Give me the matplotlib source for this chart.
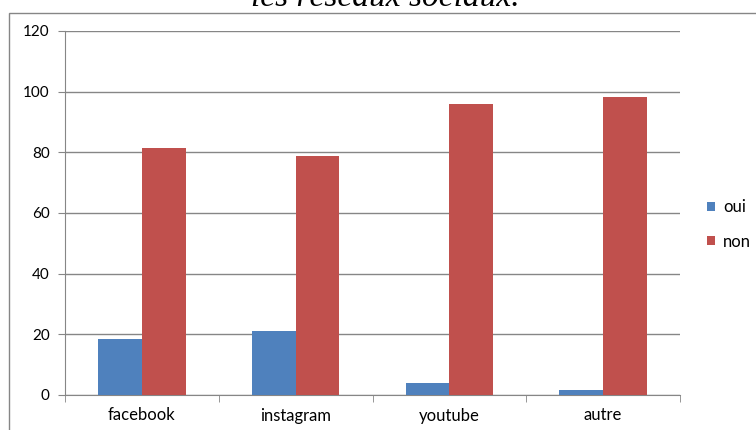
import numpy as np
import matplotlib.pyplot as plt
from matplotlib.patches import Rectangle

categories = ["facebook", "instagram", "youtube", "autre"]
oui = [18.5, 21.1, 4.0, 1.6]
non = [81.5, 78.9, 96.0, 98.4]
yticks = [0, 20, 40, 60, 80, 100, 120]

plt.rcParams["font.family"] = ["Lato", "DejaVu Sans"]

fig = plt.figure(figsize=(7.56, 4.30), dpi=100)
ax = fig.add_axes([65 / 756, 35 / 430, 615 / 756, 364 / 430])

# outer chart frame
fig.add_artist(Rectangle((9 / 756, -0.1), 1.0, (430 - 13) / 430 + 0.1,
                         transform=fig.transFigure, fill=False,
                         edgecolor="#868686", lw=1.0))

# title, cut off at the top like the original screenshot
fig.text(385 / 756, (430 - 6) / 430, "les réseaux sociaux.",
         family="Liberation Serif", style="italic", fontsize=24,
         ha="center", va="baseline")

x = np.arange(len(categories))
w = 0.285
ax.bar(x - w / 2, oui, w, color="#4f81bd", label="oui", zorder=3)
ax.bar(x + w / 2, non, w, color="#c0504d", label="non", zorder=3)

ax.set_xlim(-0.5, len(categories) - 0.5)
ax.set_ylim(0, 120)
ax.set_yticks(yticks)
ax.yaxis.grid(True, color="#868686", lw=1.0, zorder=0)
ax.set_axisbelow(True)

ax.set_xticks(x)
ax.set_xticklabels(categories)
ax.tick_params(axis="x", length=0, pad=9, labelsize=12)
ax.set_xticks(np.arange(-0.5, len(categories)), minor=True)
ax.tick_params(axis="x", which="minor", length=5, color="#868686")
ax.tick_params(axis="y", length=5, color="#868686", labelsize=11, pad=6)

for s in ["top", "right"]:
    ax.spines[s].set_visible(False)
for s in ["left", "bottom"]:
    ax.spines[s].set_color("#868686")

ax.legend(loc="center left", bbox_to_anchor=(1.044, 0.468), frameon=False,
          fontsize=12, handlelength=0.45, handleheight=0.45,
          handletextpad=0.5, labelspacing=1.1, borderpad=0,
          borderaxespad=0)

fig.savefig("out.png", dpi=100)
